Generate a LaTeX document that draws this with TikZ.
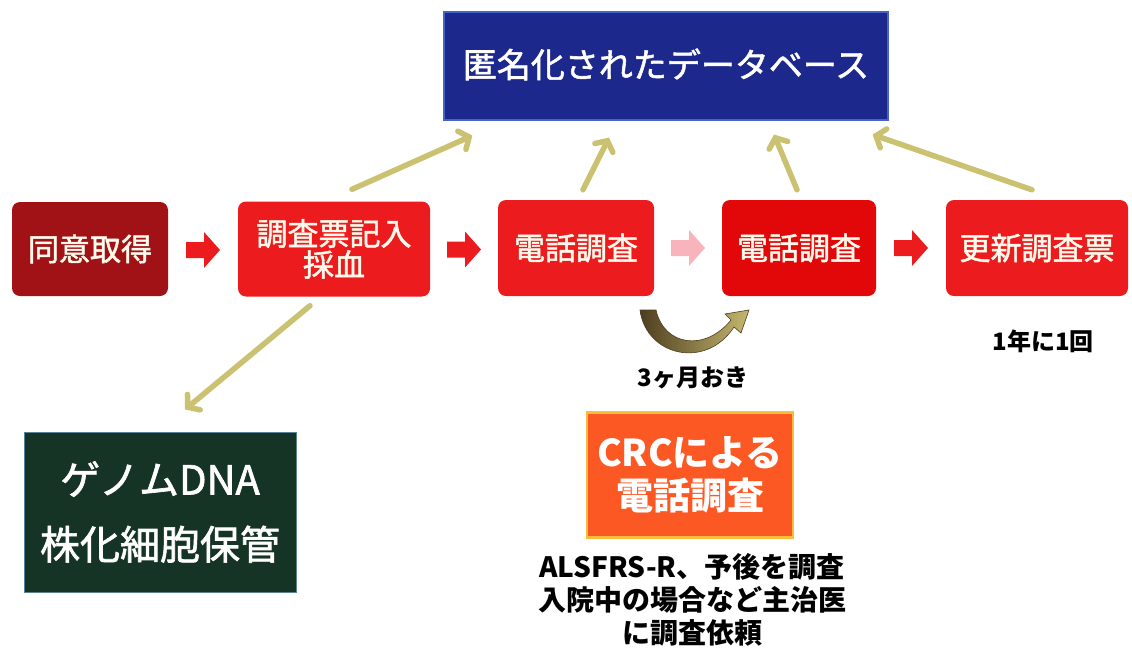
\documentclass[tikz,border=0pt]{standalone}
\usepackage{fontspec}
\setmainfont{Noto Sans CJK JP}
\newfontfamily\jpmed[FakeBold=1.6]{Noto Sans CJK JP}
\usetikzlibrary{arrows.meta,calc}
\definecolor{dbblue}{RGB}{28,40,140}
\definecolor{dbedge}{RGB}{70,100,200}
\definecolor{dred}{RGB}{160,18,22}
\definecolor{bred}{RGB}{236,28,30}
\definecolor{bred2}{RGB}{226,8,10}
\definecolor{gdark}{RGB}{22,52,38}
\definecolor{gedge}{RGB}{90,130,150}
\definecolor{crcor}{RGB}{252,88,36}
\definecolor{crcedge}{RGB}{250,190,60}
\definecolor{olivec}{RGB}{202,194,112}
\definecolor{pinkarr}{RGB}{248,180,186}
\definecolor{txtw}{RGB}{255,250,235}
\definecolor{crvdark}{RGB}{78,62,32}
\definecolor{crvlight}{RGB}{196,184,110}
\begin{document}
\begin{tikzpicture}[x=1pt,y=-1pt,
  redbox/.style={rounded corners=8pt, text=txtw, inner sep=0pt, align=center,
    font=\jpmed\fontsize{31}{31}\selectfont},
  sqbox/.style={inner sep=0pt, align=center, text=white},
  oarrow/.style={draw=olivec, line width=5.5pt, line cap=round,
    -{Straight Barb[length=8pt,width=20pt,line cap=round]}},
  lbl/.style={inner sep=0pt, align=center, text=black, font=\bfseries\fontsize{24}{26}\selectfont}
]
\useasboundingbox[fill=white] (0,0) rectangle (1132,651);

% database
\node[sqbox, fill=dbblue, draw=dbedge, line width=1.2pt, minimum width=444pt, minimum height=108pt,
  font=\jpmed\fontsize{34}{36}\selectfont] (db) at (666,66) {\raisebox{6pt}{匿名化されたデータベース}};

% row of steps
\node[redbox, fill=dred,  minimum width=156pt, minimum height=94pt] (b1) at (90,249) {同意取得};
\node[redbox, fill=bred,  minimum width=192pt, minimum height=95pt] (b2) at (334,249) {調査票記入\\採血};
\node[redbox, fill=bred,  minimum width=156pt, minimum height=96pt] (b3) at (576,248) {電話調査};
\node[redbox, fill=bred2, minimum width=154pt, minimum height=96pt] (b4) at (799,248) {電話調査};
\node[redbox, fill=bred,  minimum width=182pt, minimum height=96pt] (b5) at (1037,248) {更新調査票};

% block arrows between steps
\coordinate (m1) at ($(b1.east)!0.5!(b2.west)+(0,1)$);
\coordinate (m2) at ($(b2.east)!0.5!(b3.west)+(0,1)$);
\coordinate (m3) at ($(b3.east)!0.5!(b4.west)$);
\coordinate (m4) at ($(b4.east)!0.5!(b5.west)$);
\foreach \m/\c in {m1/bred, m2/bred, m3/pinkarr, m4/bred}{
  \fill[\c, shift={(\m)}] (-17,-8) -- (1,-8) -- (1,-18) -- (17,0) -- (1,18) -- (1,8) -- (-17,8) -- cycle;
}

% genome box
\node[sqbox, fill=gdark, draw=gedge, line width=1pt, minimum width=272pt, minimum height=160pt,
  font=\jpmed\fontsize{40}{65}\selectfont] (gen) at (160,512) {ゲノムDNA\\株化細胞保管};

% CRC box
\node[sqbox, fill=crcor, draw=crcedge, line width=2.5pt, minimum width=206pt, minimum height=125pt,
  font=\bfseries\fontsize{37}{43}\selectfont] (crc) at (690,475) {CRCによる\\電話調査};

% olive arrows
\draw[oarrow] ($(b2.north)+(18,-12)$) -- ($(db.south west)+(29,15)$);
\draw[oarrow] ($(b2.south)+(-24,9)$) -- ($(gen.north)+(25,-22)$);
\draw[oarrow] ($(b3.north)+(7,-10)$) -- ($(db.south)+(-57,17)$);
\draw[oarrow] ($(b4.north)+(-2,-10)$) -- ($(db.south)+(108,14)$);
\draw[oarrow] ($(b5.north)+(-5,-10)$) -- ($(db.south east)+(-16,14)$);

% curved arrow (every 3 months)
\path[left color=crvdark, right color=crvlight, draw=crvdark, line width=0.6pt]
  (640,310) .. controls (646,356) and (706,370) .. (734,327)
  -- (741,333) -- (749,310) -- (725,314) -- (731,320)
  .. controls (705,352) and (664,346) .. (656,310) -- cycle;

% labels
\node[lbl] (t3m) at (693,378) {3ヶ月おき};
\node[lbl] (t1y) at (1043,341) {1年に1回};
\node[lbl, font=\bfseries\fontsize{28}{33}\selectfont] (note) at (692,600)
  {ALSFRS-R、予後を調査\\入院中の場合など主治医\\に調査依頼};
\end{tikzpicture}
\end{document}
